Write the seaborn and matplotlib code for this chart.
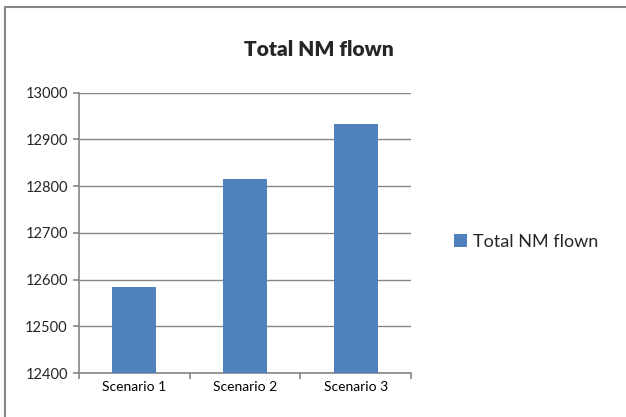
import matplotlib
matplotlib.use('Agg')
import matplotlib.pyplot as plt
import seaborn as sns
import pandas as pd
from matplotlib.lines import Line2D

# data
scenarios = ['Scenario 1', 'Scenario 2', 'Scenario 3']
nm_flown = [12584, 12816, 12934]
y_ticks = [12400, 12500, 12600, 12700, 12800, 12900, 13000]

sns.set_theme(style='white')
plt.rcParams['font.family'] = ['Lato', 'DejaVu Sans']

df = pd.DataFrame({'scenario': scenarios, 'nm': nm_flown})

fig = plt.figure(figsize=(6.26, 4.17), dpi=100)
ax = fig.add_axes([0.126, 0.1055, 0.531, 0.672])

sns.barplot(data=df, x='scenario', y='nm', color='#4f81bd', saturation=1,
            width=0.4, label='Total NM flown', ax=ax, zorder=3, linewidth=0)
if ax.get_legend() is not None:
    ax.get_legend().remove()

ax.set_ylim(y_ticks[0], y_ticks[-1])
ax.set_yticks(y_ticks)
ax.set_xlim(-0.5, len(scenarios) - 0.5)
ax.yaxis.grid(True, color='#868686', linewidth=1, zorder=0)
ax.set_axisbelow(True)
ax.set_xlabel('')
ax.set_ylabel('')

for side in ['top', 'right']:
    ax.spines[side].set_visible(False)
for side in ['left', 'bottom']:
    ax.spines[side].set_color('#868686')
    ax.spines[side].set_linewidth(1.2)

# category boundary ticks like excel
ax.set_xticks([-0.5, 0.5, 1.5, 2.5], minor=True)
ax.tick_params(axis='x', which='major', length=0, labelsize=10, pad=6, colors='black')
ax.tick_params(axis='x', which='minor', length=4, color='#868686', width=1.2, bottom=True)
ax.tick_params(axis='y', length=4, color='#868686', width=1.2, labelsize=10.5, pad=4, left=True)

fig.suptitle('Total NM flown', x=0.51, y=0.905, fontsize=15, fontweight='heavy')

handles, labels = ax.get_legend_handles_labels()
fig.legend(handles, labels, loc='center left', bbox_to_anchor=(0.70, 0.42), frameon=False,
           fontsize=13, handlelength=0.7, handleheight=0.7, handletextpad=0.3)

# chart area border (only left and top visible in the crop)
fig.add_artist(Line2D([5 / 626, 5 / 626], [0, 1 - 7 / 417], color='#868686', linewidth=1.5,
                      transform=fig.transFigure))
fig.add_artist(Line2D([5 / 626, 1], [1 - 7 / 417, 1 - 7 / 417], color='#868686', linewidth=1.5,
                      transform=fig.transFigure))

fig.savefig('out.png', dpi=100)
